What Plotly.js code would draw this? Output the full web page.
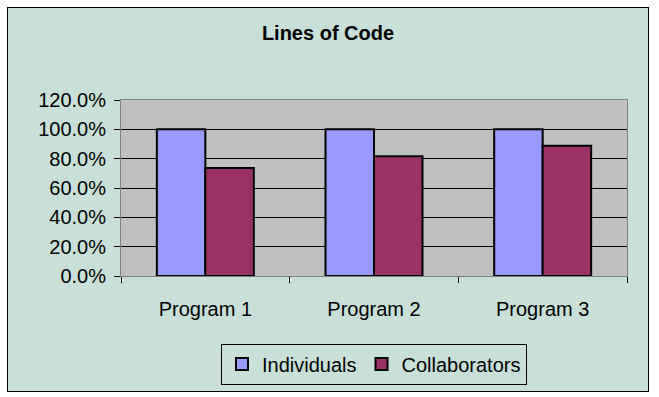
<!DOCTYPE html>
<html><head><meta charset="utf-8">
<script src="https://cdn.plot.ly/plotly-3.0.1.min.js"></script>
<style>
html,body{margin:0;padding:0;background:#fff;}
#frame{position:absolute;left:7px;top:7px;width:640px;height:383px;border:1px solid #000;background:#C8E0D8;}
#chart{width:640px;height:383px;}
</style></head><body>
<div id="frame"><div id="chart"></div></div>
<script>
const categories = ["Program 1", "Program 2", "Program 3"];
const individuals = [1.0, 1.0, 1.0];
const collaborators = [0.737, 0.817, 0.888];
const yTicks = [0, 0.2, 0.4, 0.6, 0.8, 1.0, 1.2];

const font = "Liberation Sans, Arial, sans-serif";
const traces = [
  {type:"bar", name:"Individuals", x:categories, y:individuals,
   marker:{color:"#9999FF", line:{color:"#000", width:2}}},
  {type:"bar", name:"Collaborators", x:categories, y:collaborators,
   marker:{color:"#993366", line:{color:"#000", width:2}}}
];
const layout = {
  width:640, height:383,
  paper_bgcolor:"#C8E0D8", plot_bgcolor:"#C0C0C0",
  margin:{l:113, r:21, t:92, b:115},
  font:{family:font, size:20, color:"#000"},
  title:{text:"<b>Lines of Code</b>", font:{family:font, size:20, color:"#000"},
         x:0.5, xanchor:"center", y:1-25/383, yanchor:"middle", yref:"container"},
  barmode:"group", bargap:0.425, bargroupgap:0,
  showlegend:true,
  legend:{orientation:"h", x:0.5, xanchor:"center", y:1-356/383, yanchor:"middle", yref:"container",
          bgcolor:"#C8E0D8", bordercolor:"#000", borderwidth:1,
          font:{family:font, size:20}, traceorder:"normal", itemwidth:30},
  xaxis:{type:"category", showgrid:false, showline:true, linecolor:"#808080", linewidth:1, mirror:true,
         ticks:"outside", tickson:"boundaries", ticklen:6, tickcolor:"#000",
         ticklabelstandoff:15, automargin:false,
         tickfont:{family:font, size:20}, zeroline:false},
  yaxis:{range:[0,1.2], tickvals:yTicks, tickformat:".1%", showgrid:true, gridcolor:"#000", gridwidth:1,
         showline:true, linecolor:"#808080", linewidth:1, mirror:true,
         ticks:"outside", ticklen:6, tickcolor:"#000", zeroline:false,
         ticklabelstandoff:4, automargin:false,
         tickfont:{family:font, size:20}}
};
Plotly.newPlot("chart", traces, layout, {displayModeBar:false, staticPlot:true});
</script></body></html>
